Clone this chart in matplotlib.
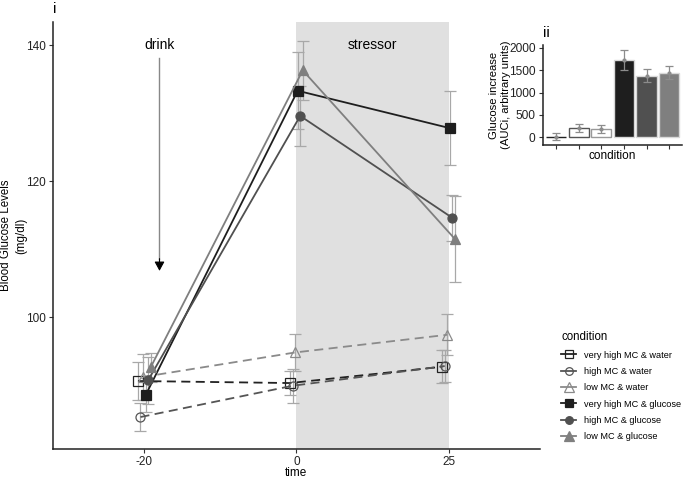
import matplotlib
matplotlib.use("Agg")
import matplotlib.pyplot as plt
import numpy as np
from matplotlib.lines import Line2D

plt.rcParams['font.family'] = ['Liberation Sans', 'DejaVu Sans']

# time points (discrete) and conditions
times = ["-20", "0", "25"]
conditions = ["very high MC & water", "high MC & water", "low MC & water",
              "very high MC & glucose", "high MC & glucose", "low MC & glucose"]

# mean blood glucose (mg/dl) per condition at each time point
vh_water = [90.6, 90.3, 92.7]
h_water = [85.3, 89.9, 92.8]
l_water = [91.2, 94.8, 97.4]
vh_gluc = [88.5, 133.3, 127.8]
h_gluc = [90.7, 129.6, 114.6]
l_gluc = [92.6, 136.3, 111.5]

# standard errors
vh_water_se = [2.8, 1.8, 2.4]
h_water_se = [2.0, 2.5, 2.4]
l_water_se = [3.4, 2.7, 3.0]
vh_gluc_se = [2.5, 5.7, 5.4]
h_gluc_se = [3.5, 4.4, 3.4]
l_gluc_se = [2.1, 4.3, 6.3]

# inset: AUCi per condition
auc = [15, 210, 180, 1730, 1375, 1445]
auc_se = [85, 90, 90, 230, 145, 140]

means = [vh_water, h_water, l_water, vh_gluc, h_gluc, l_gluc]
ses = [vh_water_se, h_water_se, l_water_se, vh_gluc_se, h_gluc_se, l_gluc_se]
colors = ['#222222', '#555555', '#8a8a8a', '#1e1e1e', '#505050', '#7f7f7f']
markers = ['s', 'o', '^', 's', 'o', '^']
filled = [False, False, False, True, True, True]
err_col = '#a8a8a8'

fig = plt.figure(figsize=(6.85, 4.8), dpi=100)
ax = fig.add_axes([0.0774, 0.0646, 0.7106, 0.8894])

x = np.arange(len(times))
ax.axvspan(1, 2, color='#e0e0e0', zorder=0, lw=0)

dodge = 0.1
for i in range(6):
    xi = x + (i - 2.5) * dodge / 6
    ax.errorbar(xi, means[i], yerr=ses[i], fmt='none', ecolor=err_col,
                elinewidth=0.9, capsize=4, capthick=0.9, zorder=2)
for i in range(6):
    xi = x + (i - 2.5) * dodge / 6
    ax.plot(xi, means[i], color=colors[i], lw=1.3,
            ls=(0, (5, 3)) if not filled[i] else '-',
            marker=markers[i], ms=7.5 if markers[i] == '^' else 6.5,
            mfc=colors[i] if filled[i] else 'none', mec=colors[i],
            mew=0.9, zorder=3)

# drink arrow
ax.plot([0.1, 0.1], [138.1, 108.5], color='#888888', lw=1.0, zorder=1)
ax.annotate('', xy=(0.1, 106.8), xytext=(0.1, 108.6),
            arrowprops=dict(arrowstyle='-|>,head_length=0.55,head_width=0.3',
                            color='black', lw=0.8, shrinkA=0, shrinkB=0))
ax.text(0.1, 140, 'drink', ha='center', va='center', fontsize=10)
ax.text(1.5, 140, 'stressor', ha='center', va='center', fontsize=10)

ax.set_xlim(-0.6, 2.6)
ax.set_ylim(80.6, 143.4)
ax.set_xticks(x)
ax.set_xticklabels(times)
ax.set_yticks([100, 120, 140])
ax.set_xlabel('time', fontsize=8.5)
ax.xaxis.set_label_coords(0.5, -0.043)
ax.set_ylabel('Blood Glucose Levels\n(mg/dl)', fontsize=8.3, linespacing=1.4)
ax.yaxis.set_label_coords(-0.052, 0.5)
for s in ['top', 'right']:
    ax.spines[s].set_visible(False)
for s in ['left', 'bottom']:
    ax.spines[s].set_color('#222222')
    ax.spines[s].set_linewidth(1.1)
ax.tick_params(labelsize=8.5, length=3, pad=2, colors='#333333',
               labelcolor='#222222')
fig.text(55 / 685, 1 - 9 / 480, 'i', fontsize=11, ha='center', va='center')

# legend
handles = []
for i in range(6):
    handles.append(Line2D([], [], color=colors[i], lw=1.3,
                          marker=markers[i], ms=5.5 if markers[i] != '^' else 6.5,
                          mfc=colors[i] if filled[i] else 'none',
                          mec=colors[i], mew=0.9))
leg = fig.legend(handles, conditions, title='condition', loc='upper left',
                 bbox_to_anchor=(553 / 685, 1 - 323 / 480), frameon=False,
                 fontsize=6.6, title_fontsize=8.3, handlelength=1.6,
                 handletextpad=0.9, labelspacing=0.8)
leg._legend_box.align = 'left'

# inset bar chart
ax2 = fig.add_axes([0.792, 0.698, 0.203, 0.208])
xb = np.arange(len(auc))
bar_face = ['#222222', 'white', 'white', '#1e1e1e', '#505050', '#7f7f7f']
bar_edge = ['#222222', '#555555', '#999999', '#d8d8d8', '#d8d8d8', '#d8d8d8']
ax2.bar(xb, auc, width=0.9, color=bar_face, edgecolor=bar_edge, lw=1.0)
ax2.errorbar(xb, auc, yerr=auc_se, fmt='o', ms=2, color='#8c8c8c',
             ecolor='#8c8c8c', elinewidth=0.9, capsize=3, capthick=0.9)
ax2.set_xlim(-0.6, 5.55)
ax2.set_ylim(-170, 2060)
ax2.set_xticks(xb)
ax2.set_xticklabels([])
ax2.set_yticks([0, 500, 1000, 1500, 2000])
ax2.set_xlabel('condition', fontsize=8.5)
ax2.xaxis.set_label_coords(0.5, -0.05)
ax2.set_ylabel('Glucose increase\n(AUCi, arbitrary units)', fontsize=8.1)
ax2.yaxis.set_label_coords(-0.228, 0.5)
for s in ['top', 'right']:
    ax2.spines[s].set_visible(False)
for s in ['left', 'bottom']:
    ax2.spines[s].set_color('#222222')
    ax2.spines[s].set_linewidth(1.1)
ax2.tick_params(labelsize=8.6, length=3, pad=2, colors='#333333',
                labelcolor='#222222')
fig.text(546 / 685, 1 - 33 / 480, 'ii', fontsize=11, ha='center', va='center')

fig.savefig('out.png', dpi=100)
